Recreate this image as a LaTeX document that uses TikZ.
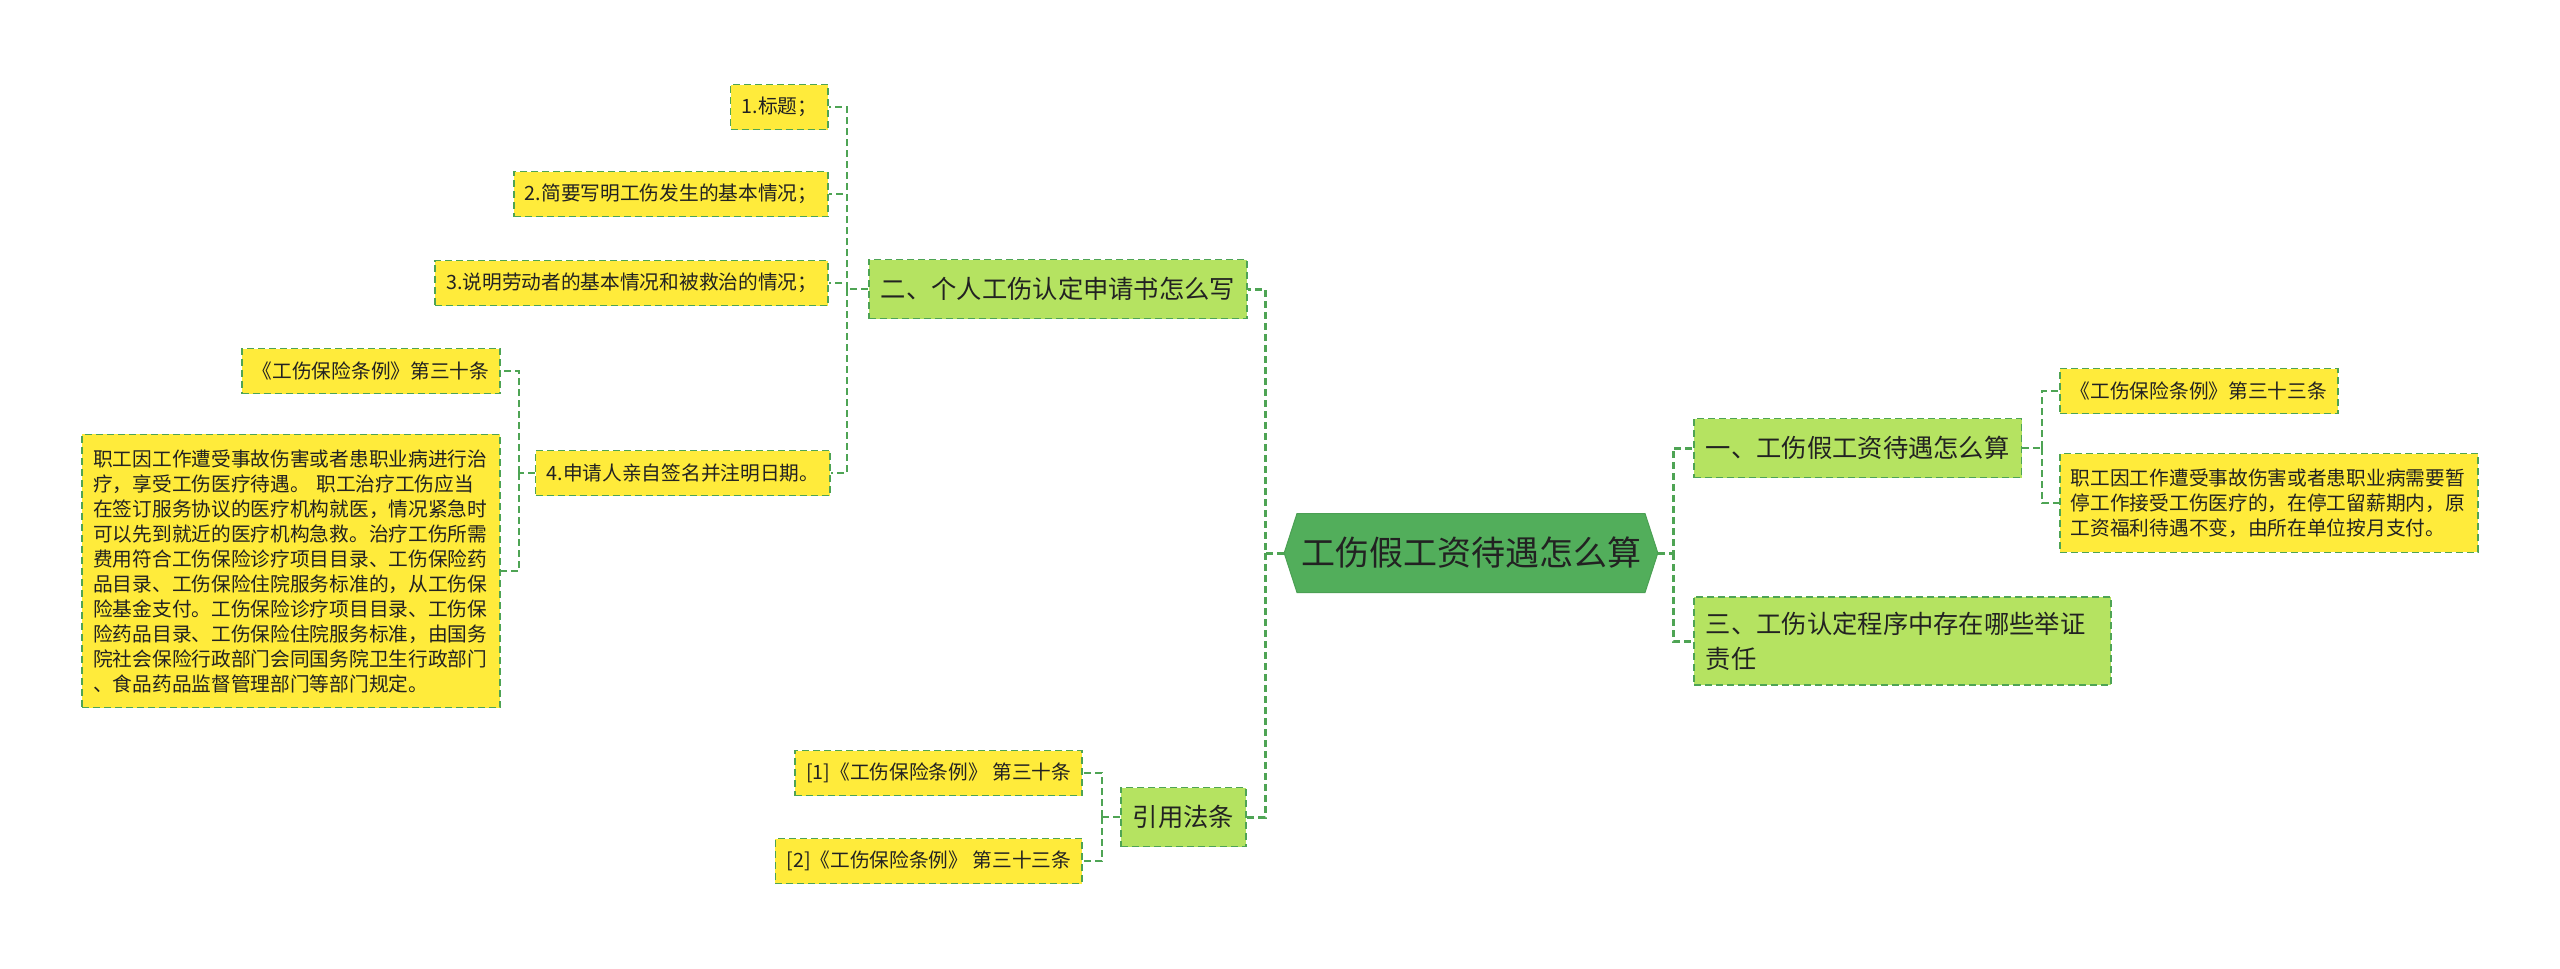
\documentclass[tikz,border=0pt]{standalone}
\usepackage{fontspec}
\setmainfont{Noto Sans CJK SC}
\usetikzlibrary{shapes.symbols}
\definecolor{rootgreen}{HTML}{52AE5B}
\definecolor{linegreen}{HTML}{4EA454}
\definecolor{branchfill}{HTML}{B5E361}
\definecolor{leaffill}{HTML}{FFEB3B}
\definecolor{inkgray}{HTML}{222222}

\begin{document}
\begin{tikzpicture}[x=1pt,y=-1pt,
  rootnode/.style={signal, signal to=west and east, signal pointer angle=144,
    fill=rootgreen, draw=rootgreen!92!black, line width=1pt, text=inkgray,
    font=\fontsize{34}{40}\selectfont, minimum height=79pt, inner xsep=4pt},
  branchbox/.style={fill=branchfill, draw=linegreen, dash pattern=on 7pt off 4pt,
    line width=1.8pt, text=inkgray, font=\fontsize{25.3}{35}\selectfont,
    inner xsep=12pt, minimum height=59pt},
  leafbox/.style={fill=leaffill, draw=linegreen, dash pattern=on 7pt off 4pt,
    line width=1.6pt, text=inkgray, font=\fontsize{19.7}{25}\selectfont,
    inner xsep=11pt, minimum height=45pt},
  textleaf/.style={text width=396pt, align=left, inner ysep=15pt},
  mainlink/.style={draw=linegreen, line width=3pt, dash pattern=on 7pt off 4pt},
  sublink/.style={draw=linegreen, line width=1.6pt, dash pattern=on 7pt off 4pt}]
  \fill[white] (0,0) rectangle (2560,969);
  \useasboundingbox (0,0) rectangle (2560,969);

  \node[rootnode] (root) at (1471,553) {工伤假工资待遇怎么算};

  % right side
  \node[branchbox,anchor=west] (b1) at (1693,448) {一、工伤假工资待遇怎么算};
  \node[branchbox,anchor=west,text width=393pt,align=left,inner ysep=15pt] (b3) at (1693,641)
    {三、工伤认定程序中存在哪些举证\\责任};
  \node[leafbox,anchor=west] (c11) at (2059,391) {《工伤保险条例》第三十三条};
  \node[leafbox,textleaf,anchor=west] (c12) at (2059,503)
    {职工因工作遭受事故伤害或者患职业病需要暂\\停工作接受工伤医疗的，在停工留薪期内，原\\工资福利待遇不变，由所在单位按月支付。};

  % left side
  \node[branchbox,anchor=east] (b2) at (1248,289) {二、个人工伤认定申请书怎么写};
  \node[branchbox,anchor=east] (b4) at (1247,817) {引用法条};
  \node[leafbox,anchor=east] (c21) at (829,107) {1.标题；};
  \node[leafbox,anchor=east] (c22) at (829,194) {2.简要写明工伤发生的基本情况；};
  \node[leafbox,anchor=east] (c23) at (829,283) {3.说明劳动者的基本情况和被救治的情况；};
  \node[leafbox,anchor=east] (c24) at (831,473) {4.申请人亲自签名并注明日期。};
  \node[leafbox,anchor=east] (c241) at (501,371) {《工伤保险条例》第三十条};
  \node[leafbox,textleaf,anchor=east] (c242) at (501,571)
    {职工因工作遭受事故伤害或者患职业病进行治\\疗，享受工伤医疗待遇。 职工治疗工伤应当\\在签订服务协议的医疗机构就医，情况紧急时\\可以先到就近的医疗机构急救。治疗工伤所需\\费用符合工伤保险诊疗项目目录、工伤保险药\\品目录、工伤保险住院服务标准的，从工伤保\\险基金支付。工伤保险诊疗项目目录、工伤保\\险药品目录、工伤保险住院服务标准，由国务\\院社会保险行政部门会同国务院卫生行政部门\\、食品药品监督管理部门等部门规定。};
  \node[leafbox,anchor=east] (c41) at (1083,773) {[1]《工伤保险条例》 第三十条};
  \node[leafbox,anchor=east] (c42) at (1083,861) {[2]《工伤保险条例》 第三十三条};

  % junctions
  \coordinate (jr) at (1673,553);
  \coordinate (jl) at (1265,553);
  \coordinate (j1) at (2042,448);
  \coordinate (j2) at (847,289);
  \coordinate (j24) at (519,473);
  \coordinate (j4) at (1102,817);

  \draw[mainlink] (root.east) -- (jr) |- (b1.west);
  \draw[mainlink] (jr) |- (b3.west);
  \draw[mainlink] (root.west) -- (jl) |- (b2.east);
  \draw[mainlink] (jl) |- (b4.east);

  \draw[sublink] (b1.east) -- (j1);
  \foreach \c in {c11,c12} \draw[sublink] (j1) |- (\c.west);
  \draw[sublink] (b2.west) -- (j2);
  \foreach \c in {c21,c22,c23,c24} \draw[sublink] (j2) |- (\c.east);
  \draw[sublink] (c24.west) -- (j24);
  \foreach \c in {c241,c242} \draw[sublink] (j24) |- (\c.east);
  \draw[sublink] (b4.west) -- (j4);
  \foreach \c in {c41,c42} \draw[sublink] (j4) |- (\c.east);
\end{tikzpicture}
\end{document}
